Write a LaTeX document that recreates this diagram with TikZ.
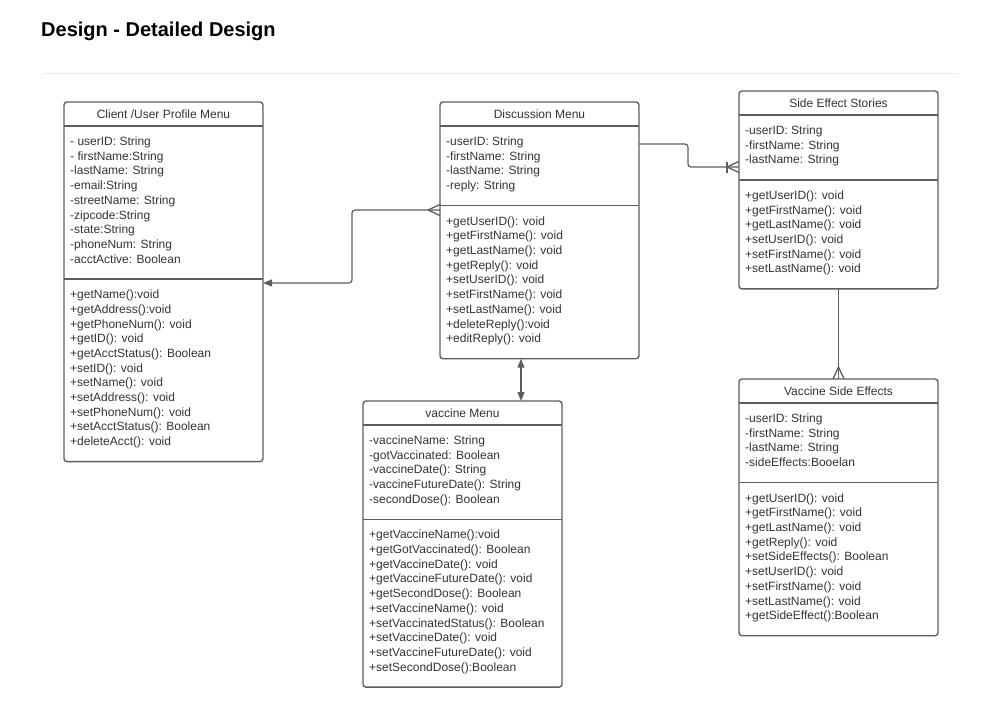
\documentclass[tikz,border=0pt]{standalone}
\usepackage{fontspec}
\setmainfont{Liberation Sans}
\usetikzlibrary{arrows.meta,calc}
\definecolor{umlGray}{HTML}{5E5E5E}
\definecolor{umlText}{HTML}{333333}
\tikzset{
	umlbox/.style={draw=umlGray, line width=1.4pt, rounded corners=3pt, minimum width=199pt, inner sep=0pt, outer sep=0pt},
	umlline/.style={draw=umlGray, line width=1.3pt},
	umltext/.style={anchor=base west, inner sep=0pt, text=umlText, font=\fontsize{12}{14}\selectfont},
	link/.style={draw=umlGray, line width=1.2pt, rounded corners=3pt},
}
% class box: name, x, y, number of attributes, number of methods, title, attributes, methods
\newcommand{\umlClass}[8]{
	\pgfmathsetmacro{\divA}{#3+24}
	\pgfmathsetmacro{\divB}{\divA+35.5+14.7*(#4-1)}
	\pgfmathsetmacro{\boxEnd}{\divB+35.5+14.7*(#5-1)}
	\path (#2,#3) node[umlbox, anchor=north west, minimum height={(\boxEnd-#3)*1pt}](#1){};
	\draw[umlline] (#2,\divA) -- ++(199,0);
	\draw[umlline] (#2,\divB) -- ++(199,0);
	\node[umltext, anchor=base] (#1-title) at (#2+99.5,#3+16) {#6};
	\foreach \txt [count=\i] in {#7}
		\node[umltext] (#1-a\i) at (#2+6,\divA+19.5+14.7*\i-14.7) {\txt};
	\foreach \txt [count=\i] in {#8}
		\node[umltext] (#1-m\i) at (#2+6,\divB+19.5+14.7*\i-14.7) {\txt};
}
% crow's foot: point on the box, direction pointing away from the box
\newcommand{\crowFoot}[2]{
	\draw[umlline] ($(#1)+(#2:12)$) -- ($(#1)+(#2+90:5.5)$);
	\draw[umlline] ($(#1)+(#2:12)$) -- ($(#1)+(#2-90:5.5)$);
}

\begin{document}
\begin{tikzpicture}[x=1pt, y=-1pt]
	\useasboundingbox (0,0) rectangle (988,702);

	\node[anchor=base west, inner sep=0pt, font=\fontsize{20}{24}\selectfont\bfseries] (pageTitle) at (41,36.5) {Design - Detailed Design};
	\draw[black!8, line width=1pt] (43,73) -- (958,73);

	\umlClass{client}{64}{102}{9}{11}{Client /User Profile Menu}
		{- userID: String, - firstName:String, -lastName: String, -email:String, -streetName: String, -zipcode:String, -state:String, -phoneNum: String, -acctActive: Boolean}
		{+getName():void, +getAddress():void, +getPhoneNum(): void, +getID(): void, +getAcctStatus(): Boolean, +setID(): void, +setName(): void, +setAddress(): void, +setPhoneNum(): void, +setAcctStatus(): Boolean, +deleteAcct(): void}
	\umlClass{disc}{440}{102}{4}{9}{Discussion Menu}
		{-userID: String, -firstName: String, -lastName: String, -reply: String}
		{+getUserID(): void, +getFirstName(): void, +getLastName(): void, +getReply(): void, +setUserID(): void, +setFirstName(): void, +setLastName(): void, +deleteReply():void, +editReply(): void}
	\umlClass{ses}{739}{91}{3}{6}{Side Effect Stories}
		{-userID: String, -firstName: String, -lastName: String}
		{+getUserID(): void, +getFirstName(): void, +getLastName(): void, +setUserID(): void, +setFirstName(): void, +setLastName(): void}
	\umlClass{vacc}{363}{401}{5}{10}{vaccine Menu}
		{-vaccineName: String, -gotVaccinated: Boolean, -vaccineDate(): String, -vaccineFutureDate(): String, -secondDose(): Boolean}
		{+getVaccineName():void, +getGotVaccinated(): Boolean, +getVaccineDate(): void, +getVaccineFutureDate(): void, +getSecondDose(): Boolean, +setVaccineName(): void, +setVaccinatedStatus(): Boolean, +setVaccineDate(): void, +setVaccineFutureDate(): void, +setSecondDose():Boolean}
	\umlClass{vse}{739}{379}{4}{9}{Vaccine Side Effects}
		{-userID: String, -firstName: String, -lastName: String, -sideEffects:Booelan}
		{+getUserID(): void, +getFirstName(): void, +getLastName(): void, +getReply(): void, +setSideEffects(): Boolean, +setUserID(): void, +setFirstName(): void, +setLastName(): void, +getSideEffect():Boolean}

	% discussion -> client
	\coordinate (discLeft) at ($(disc.north west)+(0,108)$);
	\coordinate (clientRight) at ($(client.north east)+(0,181)$);
	\draw[link, -{Triangle[length=9pt, width=7pt]}] (discLeft) -- ++(-88,0) |- (clientRight);
	\crowFoot{discLeft}{180}

	% discussion -> side effect stories
	\coordinate (discRight) at ($(disc.north east)+(0,42)$);
	\coordinate (sesLeft) at ($(ses.north west)+(0,76)$);
	\draw[link] (discRight) -- ++(49,0) |- (sesLeft);
	\crowFoot{sesLeft}{180}
	\draw[umlline] ($(sesLeft)+(-12,-5.5)$) -- ($(sesLeft)+(-12,5.5)$);

	% discussion <-> vaccine
	\coordinate (vaxLink) at (521,0);
	\draw[link, {Triangle[length=9pt, width=7pt]}-{Triangle[length=9pt, width=7pt]}] (disc.south -| vaxLink) -- (vacc.north -| vaxLink);

	% stories -> vaccine side effects
	\draw[link] (ses.south) -- (vse.north);
	\crowFoot{vse.north}{-90}
\end{tikzpicture}
\end{document}
